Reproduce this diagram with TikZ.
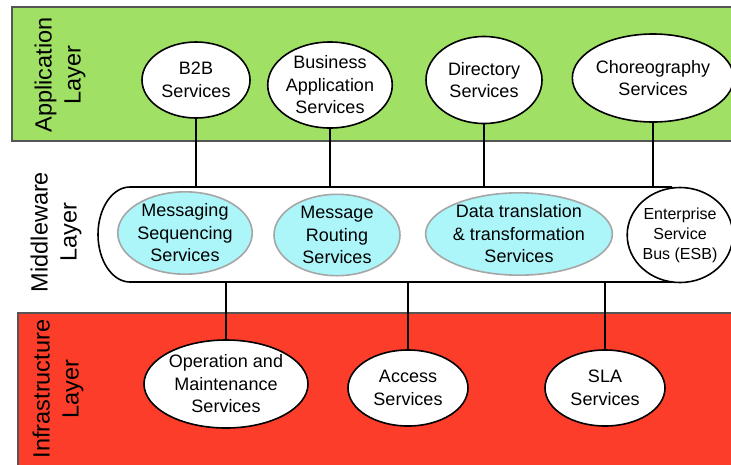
\documentclass[tikz,border=0pt]{standalone}
\usepackage{fontspec}
\setmainfont{Liberation Sans}
\usetikzlibrary{shapes.geometric,positioning}
\definecolor{appgreen}{RGB}{160,224,100}
\definecolor{infred}{RGB}{252,61,42}
\definecolor{mwcyan}{RGB}{172,246,250}
\definecolor{bandgray}{RGB}{85,85,85}
\tikzset{
  band/.style={draw=bandgray, line width=2.2pt},
  layer/.style={rotate=90, align=center, font=\fontsize{23.5}{29}\selectfont},
  svc/.style={ellipse, draw, line width=1.6pt, fill=white, align=center, inner sep=0pt, font=\fontsize{18}{22.5}\selectfont},
  mw/.style={svc, draw=gray!70, fill=mwcyan},
  link/.style={line width=1.2pt},
}
\begin{document}
\begin{tikzpicture}[x=1pt,y=-1pt]
\useasboundingbox (0,0) rectangle (731,464);

%Shape: Rectangle [application band]
\draw [band, fill=appgreen] (12,7) rectangle (745,141);
%Shape: Rectangle [infrastructure band]
\draw [band, fill=infred] (18,313) rectangle (745,480);

%Shape: Pill [middleware bus]
\draw [line width=1.6pt] (672,187) -- (130,187) arc [start angle=270, end angle=90, x radius=32, y radius=47.5] -- (672,282);
\coordinate (mwtop) at (0,187);
\coordinate (mwbot) at (0,282);

% Text Node
\node [layer] (applayer) at (60,75) {Application\\Layer};
% Text Node
\node [layer] (mwlayer) at (56,232) {Middleware\\Layer};
% Text Node
\node [layer] (inflayer) at (58,389) {Infrastructure\\Layer};

%Application services
\node [svc, minimum width=108, minimum height=76] (btob) at (196,80) {B2B\\Services};
\node [svc, minimum width=118, minimum height=86] (busapp) at (330,85) {Business\\Application\\Services};
\node [svc, minimum width=116, minimum height=87] (dir) at (484,80) {Directory\\Services};
\node [svc, minimum width=140, minimum height=88] (choreo) at (653,78) {Choreography\\Services};

%Middleware services
\node [mw, minimum width=126, minimum height=80] (msgseq) at (185,233) {Messaging\\Sequencing\\Services};
\node [mw, minimum width=126, minimum height=80] (msgroute) at (337,235) {Message\\Routing\\Services};
\node [mw, minimum width=182, minimum height=81] (datatrans) at (519,234) {Data translation\\\& transformation\\Services};
\node [svc, minimum width=104, minimum height=95, font=\fontsize{16}{20}\selectfont] (esb) at (680,235) {Enterprise\\Service\\Bus (ESB)};

%Infrastructure services
\node [svc, minimum width=164, minimum height=88] (opmaint) at (226,384) {Operation and\\Maintenance\\Services};
\node [svc, minimum width=120, minimum height=76] (access) at (408,388) {Access\\Services};
\node [svc, minimum width=120, minimum height=76] (sla) at (605,388) {SLA\\Services};

%Straight Lines
\draw [link] (btob.south) -- (btob.south |- mwtop);
\draw [link] (busapp.south) -- (busapp.south |- mwtop);
\draw [link] (dir.south) -- (dir.south |- mwtop);
\draw [link] (choreo.south) -- (choreo.south |- mwtop);
\draw [link] (opmaint.north) -- (opmaint.north |- mwbot);
\draw [link] (access.north) -- (access.north |- mwbot);
\draw [link] (sla.north) -- (sla.north |- mwbot);

\end{tikzpicture}
\end{document}
